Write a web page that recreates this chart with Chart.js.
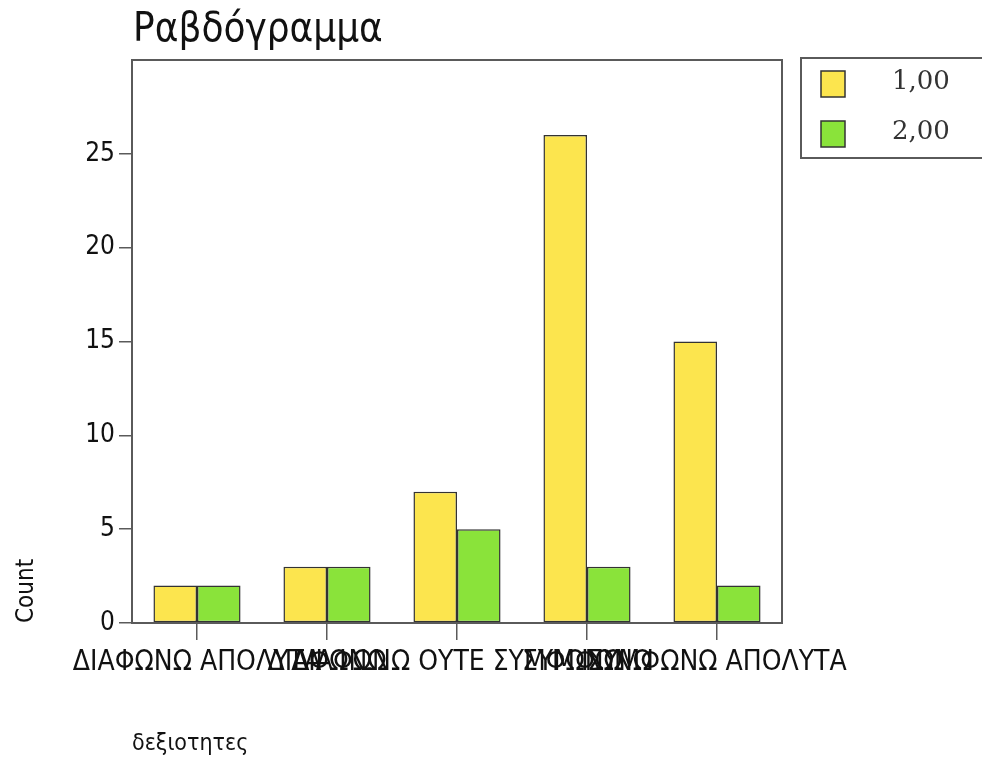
<!DOCTYPE html>
<html lang="el">

<head>
    <meta charset="UTF-8">
    <title>Ραβδόγραμμα</title>
    <script src="https://cdn.jsdelivr.net/npm/chart.js"></script>
    <style>
        body {
            margin: 0;
            background: #fff;
        }
    </style>
</head>

<body>
    <canvas id="barChart" width="982" height="762"></canvas>

    <script>
        // data
        const categories = ['ΔΙΑΦΩΝΩ ΑΠΟΛΥΤΑ', 'ΔΙΑΦΩΝΩ', 'ΔΙΑΦΩΝΩ ΟΥΤΕ ΣΥΜΦΩΝΩ', 'ΣΥΜΦΩΝΩ', 'ΣΥΜΦΩΝΩ ΑΠΟΛΥΤΑ'];
        const seriesNames = ['1,00', '2,00'];
        const series1 = [2, 3, 7, 26, 15];
        const series2 = [2, 3, 5, 3, 2];
        const yTicks = [0, 5, 10, 15, 20, 25];

        const yellow = '#fce54e';
        const green = '#8ae33a';
        const frameColor = '#5a5a5a';
        const sans = '"DejaVu Sans Condensed", "DejaVu Sans", sans-serif';

        // title, plot frame and legend box
        const extras = {
            id: 'extras',
            afterDraw(chart) {
                const ctx = chart.ctx;
                const a = chart.chartArea;
                ctx.save();
                ctx.strokeStyle = frameColor;
                ctx.lineWidth = 2;
                ctx.strokeRect(a.left, a.top, a.right - a.left, a.bottom - a.top);

                ctx.fillStyle = '#111';
                ctx.font = '40px ' + sans;
                ctx.textAlign = 'left';
                ctx.textBaseline = 'alphabetic';
                ctx.fillText('Ραβδόγραμμα', a.left + 1, 41);

                // legend
                ctx.strokeRect(801, 58, 200, 100);
                chart.data.datasets.forEach((ds, i) => {
                    const y = 71 + i * 50;
                    ctx.fillStyle = ds.backgroundColor;
                    ctx.fillRect(821, y, 24, 26);
                    ctx.lineWidth = 1.5;
                    ctx.strokeStyle = '#333';
                    ctx.strokeRect(821, y, 24, 26);
                    ctx.fillStyle = '#333';
                    ctx.font = '26px "DejaVu Serif", serif';
                    ctx.textBaseline = 'middle';
                    ctx.fillText(ds.label, 892, y + 11);
                });
                ctx.restore();
            }
        };

        const ctx = document.getElementById('barChart').getContext('2d');
        const chart = new Chart(ctx, {
            type: 'bar',
            data: {
                labels: categories,
                datasets: [{
                    label: seriesNames[0],
                    data: series1,
                    backgroundColor: yellow,
                    borderColor: '#333',
                    borderWidth: 1.5,
                    borderSkipped: false
                }, {
                    label: seriesNames[1],
                    data: series2,
                    backgroundColor: green,
                    borderColor: '#333',
                    borderWidth: 1.5,
                    borderSkipped: false
                }]
            },
            options: {
                responsive: false,
                animation: false,
                layout: {
                    padding: { left: 0, right: 200, top: 60, bottom: 0 }
                },
                datasets: {
                    bar: { categoryPercentage: 0.67, barPercentage: 1 }
                },
                plugins: {
                    legend: { display: false },
                    title: { display: false },
                    tooltip: { enabled: false }
                },
                scales: {
                    x: {
                        afterFit(scale) { scale.height = 139; },
                        border: { display: false },
                        grid: {
                            offset: false,
                            drawOnChartArea: false,
                            tickLength: 17,
                            tickColor: frameColor,
                            lineWidth: 1.5
                        },
                        ticks: {
                            autoSkip: false,
                            maxRotation: 0,
                            minRotation: 0,
                            padding: 6,
                            color: '#111',
                            font: { family: sans, size: 28 }
                        },
                        title: {
                            display: true,
                            text: 'δεξιοτητες',
                            align: 'start',
                            color: '#111',
                            font: { family: sans, size: 23 },
                            padding: { top: 0, bottom: 4 }
                        }
                    },
                    y: {
                        min: 0,
                        max: 30,
                        afterFit(scale) { scale.width = 132; },
                        afterBuildTicks(scale) {
                            scale.ticks = yTicks.map(v => ({ value: v }));
                        },
                        border: { display: false },
                        grid: {
                            drawOnChartArea: false,
                            tickLength: 13,
                            tickColor: frameColor,
                            lineWidth: 1.5
                        },
                        ticks: {
                            padding: 4,
                            color: '#111',
                            font: { family: sans, size: 26 }
                        },
                        title: {
                            display: true,
                            text: 'Count',
                            align: 'start',
                            color: '#111',
                            font: { family: sans, size: 24 },
                            padding: { top: 12, bottom: 0 }
                        }
                    }
                }
            },
            plugins: [extras]
        });
    </script>
</body>

</html>
